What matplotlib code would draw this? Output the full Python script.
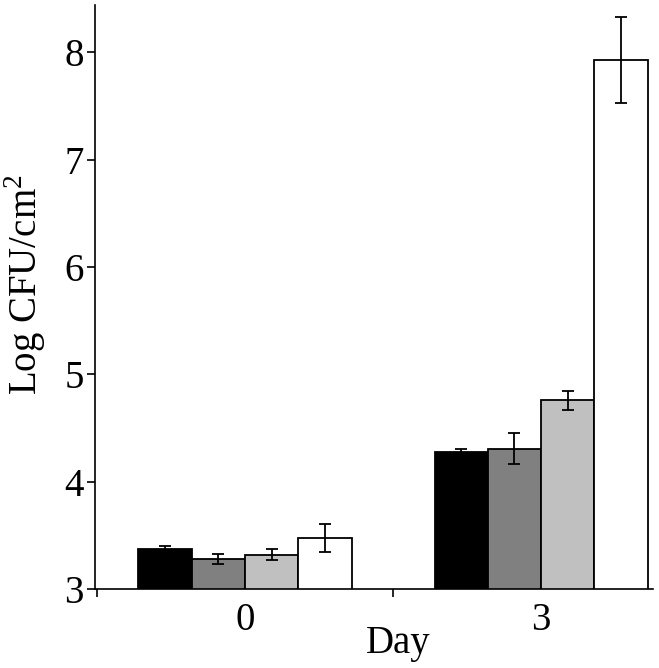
import numpy as np
import matplotlib.pyplot as plt

days = ["0", "3"]
series_colors = ["#000000", "#808080", "#c0c0c0", "#ffffff"]
means = [
    [3.37, 4.28],
    [3.28, 4.31],
    [3.32, 4.76],
    [3.48, 7.93],
]
errs = [
    [0.03, 0.03],
    [0.05, 0.14],
    [0.05, 0.09],
    [0.13, 0.40],
]

plt.rcParams["font.family"] = ["Liberation Serif", "DejaVu Serif"]
plt.rcParams["mathtext.fontset"] = "custom"
plt.rcParams["mathtext.rm"] = "Liberation Serif"

fig = plt.figure(figsize=(6.59, 6.68), dpi=100)
ax = fig.add_axes([0.144, 0.118, 0.847, 0.8745])

x = np.arange(len(days))
w = 0.18
for i, (m, e, c) in enumerate(zip(means, errs, series_colors)):
    ax.bar(x + (i - 1.5) * w, m, width=w, bottom=0, color=c, edgecolor="black",
           linewidth=1.3, yerr=e, capsize=4.5,
           error_kw=dict(elinewidth=1.3, capthick=1.3, ecolor="black"), zorder=2)

ax.set_yticks([3, 4, 5, 6, 7, 8])
ax.set_xticks([-0.5, 0.5, 1.5])
ax.set_xticklabels([])
ax.set_xticks(x, minor=True)
ax.set_xticklabels(days, minor=True)
# set limits after ticks, set_xticks widens the view otherwise
ax.set_ylim(3, 8.44)
ax.set_xlim(-0.507, 1.378)
ax.tick_params(axis="x", which="minor", length=0, labelsize=28, pad=9)
ax.tick_params(axis="x", which="major", length=6, width=1.2, direction="out")
ax.tick_params(axis="y", length=6, width=1.2, direction="out", labelsize=28, pad=2)

for s in ["top", "right"]:
    ax.spines[s].set_visible(False)
ax.spines["left"].set_linewidth(1.2)
ax.spines["bottom"].set_linewidth(1.2)

ax.set_ylabel(r"Log CFU/cm$^{\mathrm{2}}$", fontsize=28, va="center", ha="center")
ax.set_xlabel("Day", fontsize=28, va="center", ha="center")
ax.yaxis.set_label_coords(-0.126, 0.522)
ax.xaxis.set_label_coords(0.543, -0.093)

fig.savefig("out.png", dpi=100)
